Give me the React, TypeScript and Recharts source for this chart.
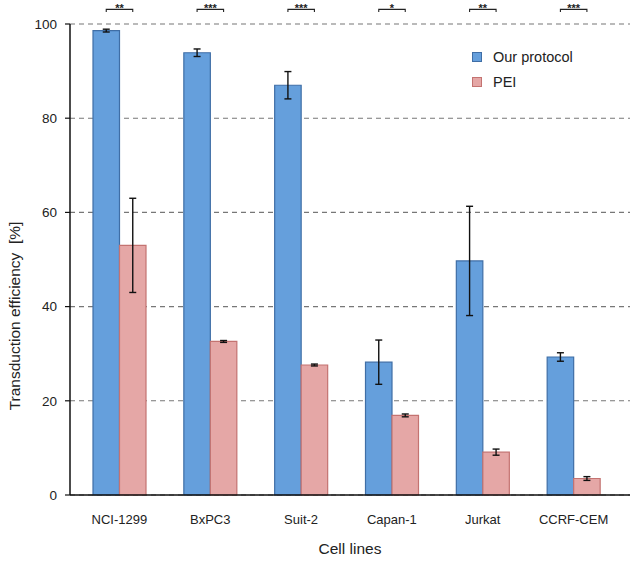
import React from 'react';
import { BarChart, Bar, XAxis, YAxis, CartesianGrid, ErrorBar, LabelList, Label } from 'recharts';

const categories = ['NCI-1299', 'BxPC3', 'Suit-2', 'Capan-1', 'Jurkat', 'CCRF-CEM'];
const ourProtocol = [98.6, 93.9, 87.0, 28.2, 49.7, 29.3];
const ourProtocolErr = [0.3, 0.8, 2.9, 4.7, 11.6, 0.9];
const pei = [53.0, 32.6, 27.6, 16.9, 9.1, 3.5];
const peiErr = [10.0, 0.2, 0.2, 0.3, 0.65, 0.4];
const significance = ['**', '***', '***', '*', '**', '***'];
const yTicks = [0, 20, 40, 60, 80, 100];
const seriesNames = ['Our protocol', 'PEI'];

const data = categories.map((c, i) => ({
  name: c,
  our: ourProtocol[i],
  ourErr: ourProtocolErr[i],
  pei: pei[i],
  peiErr: peiErr[i],
}));

const FONT = '"Liberation Sans", Arial, sans-serif';
const BLUE = '#659FDC';
const BLUE_STROKE = '#3F6EA6';
const PINK = '#E5A7A6';
const PINK_STROKE = '#C47371';

const SigBracket = (props: any) => {
  const { x, y, width, height, index } = props;
  const v = ourProtocol[index];
  const base = y + height;
  const ppu = height / v;
  const ly = base - 103.1 * ppu;
  const x1 = x + width / 2;
  const x2 = x + width * 1.5;
  return (
    <g>
      <path d={`M${x1},${ly + 2.5}L${x1},${ly}L${x2},${ly}L${x2},${ly + 2.5}`} fill="none" stroke="#222" strokeWidth={1.1} />
      <text x={(x1 + x2) / 2} y={ly + 2.5} textAnchor="middle" fontSize={11} fontWeight="bold" fontFamily={FONT} fill="#222" stroke="none">
        {significance[index]}
      </text>
    </g>
  );
};

const YLabel = (props: any) => {
  const vb = props.viewBox || {};
  // label sits below the plot's vertical centre in the reference
  const cy = vb.y + vb.height * 0.62;
  return (
    <text x={20} y={cy} transform={`rotate(-90, 20, ${cy})`} textAnchor="middle" fontSize={15.5} fontFamily={FONT} fill="#222">
      {'Transduction efficiency\u00A0 [%]'}
    </text>
  );
};

export default function App() {
  const colors = [
    { fill: BLUE, stroke: BLUE_STROKE },
    { fill: PINK, stroke: PINK_STROKE },
  ];
  return (
    <div style={{ position: 'absolute', left: 0, top: 0, width: 633, height: 561, background: '#fff' }}>
      <BarChart
        width={633}
        height={561}
        data={data}
        margin={{ top: 24, right: 3, left: 0, bottom: 36 }}
        barGap={0}
        barSize={26.5}
      >
        <CartesianGrid vertical={false} stroke="#777" strokeDasharray="5 4" strokeWidth={1.1} />
        <XAxis
          dataKey="name"
          axisLine={{ stroke: '#111', strokeWidth: 1.5 }}
          tickLine={false}
          tick={{ fontSize: 13, fontFamily: FONT, fill: '#222' }}
          tickMargin={14}
          height={30}
          padding={{ left: 4, right: 11 }}
        >
          <Label value="Cell lines" position="bottom" offset={18} style={{ fontSize: 15.5, fontFamily: FONT, fill: '#222' }} />
        </XAxis>
        <YAxis
          domain={[0, 100]}
          ticks={yTicks}
          width={70}
          axisLine={{ stroke: '#111', strokeWidth: 1.5 }}
          tickLine={{ stroke: '#111', strokeWidth: 1.2 }}
          tickSize={5}
          tickMargin={8}
          tick={{ fontSize: 13.5, fontFamily: FONT, fill: '#222' }}
          interval={0}
        >
          <Label content={<YLabel />} />
        </YAxis>
        <Bar dataKey="our" name={seriesNames[0]} fill={BLUE} stroke={BLUE_STROKE} strokeWidth={1.2} isAnimationActive={false}>
          <ErrorBar dataKey="ourErr" width={3.5} stroke="#111" strokeWidth={1.4} direction="y" />
          <LabelList dataKey="our" content={<SigBracket />} />
        </Bar>
        <Bar dataKey="pei" name={seriesNames[1]} fill={PINK} stroke={PINK_STROKE} strokeWidth={1.2} isAnimationActive={false}>
          <ErrorBar dataKey="peiErr" width={3.5} stroke="#111" strokeWidth={1.4} direction="y" />
        </Bar>
      </BarChart>
      <div style={{ position: 'absolute', left: 472, top: 44, fontFamily: FONT, fontSize: 14.5, color: '#222' }}>
        {seriesNames.map((label, i) => (
          <div key={label} style={{ display: 'flex', alignItems: 'center', height: 25 }}>
            <div style={{ width: 8, height: 8, background: colors[i].fill, border: `1px solid ${colors[i].stroke}`, marginRight: 11 }} />
            <span>{label}</span>
          </div>
        ))}
      </div>
    </div>
  );
}
